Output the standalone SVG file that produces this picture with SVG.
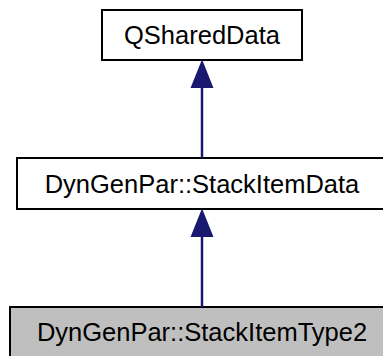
<svg xmlns="http://www.w3.org/2000/svg" width="383" height="356" viewBox="0 0 383 356">
<style>
.box{fill:#ffffff;stroke:#000000;stroke-width:2}
.cur{fill:#bfbfbf;stroke:#000000;stroke-width:2}
.lbl{font-family:"Liberation Sans",Arial,sans-serif;font-size:25.5px;fill:#000000;text-anchor:middle}
.edge{stroke:#191970;stroke-width:2.5;fill:none}
.head{fill:#191970;stroke:#191970;stroke-width:2}
</style>
<rect width="383" height="356" fill="#ffffff"/>
<g id="node-qshareddata">
<rect class="box" x="102" y="10" width="200" height="50"/>
<text class="lbl" x="202" y="44">QSharedData</text>
</g>
<g id="node-stackitemdata">
<rect class="box" x="17" y="158" width="370" height="51"/>
<text class="lbl" x="202" y="193">DynGenPar::StackItemData</text>
</g>
<g id="node-stackitemtype2">
<rect class="cur" x="10" y="307" width="384" height="60"/>
<text class="lbl" x="202" y="341">DynGenPar::StackItemType2</text>
</g>
<g id="connectors">
<line class="edge" x1="202" y1="158" x2="202" y2="87"/>
<polygon class="head" points="202,62 192,87 212,87"/>
<line class="edge" x1="202" y1="307" x2="202" y2="236"/>
<polygon class="head" points="202,211 192,236 212,236"/>
</g>
</svg>
